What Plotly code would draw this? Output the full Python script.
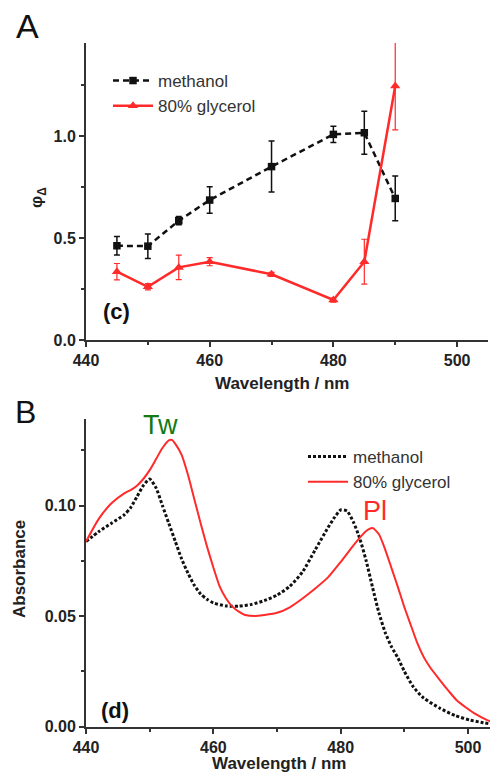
import plotly.graph_objects as go

# ---------------- Panel A data (singlet oxygen quantum yield) ----------------
wl_a = [445, 450, 455, 460, 470, 480, 485, 490]
phi_meoh = [0.462, 0.460, 0.585, 0.686, 0.850, 1.008, 1.016, 0.694]
phi_meoh_err = [0.045, 0.060, 0.020, 0.065, 0.125, 0.040, 0.105, 0.110]
phi_gly = [0.335, 0.261, 0.356, 0.384, 0.322, 0.196, 0.384, 1.245]
phi_gly_err = [0.040, 0.015, 0.060, 0.020, 0.010, 0.010, 0.110, 0.215]

# ---------------- Panel B data (absorbance spectra) ----------------
wl_meoh = [440, 442, 444, 446, 447, 448, 449, 450, 451, 452, 453, 454, 455, 456,
           457, 458, 459, 460, 462, 464, 466, 468, 470, 472, 474, 476, 478, 479,
           480, 481, 482, 483, 484, 485, 486, 487, 488, 489, 490, 491.4, 493,
           495.6, 498, 500.3, 502, 505]
abs_meoh = [0.0837, 0.0882, 0.0920, 0.0958, 0.0990, 0.1040, 0.1090, 0.1120,
            0.1080, 0.1000, 0.0920, 0.0840, 0.0760, 0.0695, 0.0640, 0.0600,
            0.0576, 0.0560, 0.0546, 0.0545, 0.0553, 0.0570, 0.0595, 0.0635,
            0.0700, 0.0800, 0.0900, 0.0945, 0.0980, 0.0975, 0.0925, 0.0850,
            0.0750, 0.0630, 0.0515, 0.0425, 0.0360, 0.0310, 0.0250, 0.0180,
            0.0130, 0.0083, 0.0050, 0.0030, 0.0020, 0.0005]

wl_gly = [440, 442, 444, 446, 447, 448, 449, 450, 451, 452, 453, 453.5, 454, 455,
          456, 457, 458, 459, 460, 461, 462, 463, 464, 465, 466.5, 468, 470, 472,
          474, 476, 478, 480, 482, 483, 484, 485, 486, 487, 488, 489, 490, 491,
          492, 493, 494, 495.6, 497, 498.2, 500, 501, 503, 505]
abs_gly = [0.0837, 0.0940, 0.1010, 0.1055, 0.1070, 0.1090, 0.1120, 0.1160,
           0.1210, 0.1260, 0.1295, 0.1297, 0.1280, 0.1230, 0.1140, 0.1030,
           0.0920, 0.0815, 0.0720, 0.0633, 0.0580, 0.0543, 0.0520, 0.0505,
           0.0500, 0.0505, 0.0515, 0.0540, 0.0580, 0.0625, 0.0675, 0.0745,
           0.0820, 0.0855, 0.0885, 0.0898, 0.0870, 0.0800, 0.0715, 0.0630,
           0.0540, 0.0460, 0.0380, 0.0317, 0.0270, 0.0210, 0.0160, 0.0120,
           0.0080, 0.0060, 0.0030, 0.0010]

series_names = ["methanol", "80% glycerol"]

BLACK = "#111111"
RED = "#ff2a2a"
AXC = "#333333"
FONT = "Liberation Sans, Arial, sans-serif"

# the page body has an 8px default margin, so the figure is 8px smaller
OFF = 8
W, H = 498 - OFF, 776 - OFF

def px(v):
    return (v - OFF) / W

def py(v):
    return 1 - (v - OFF) / H

fig = go.Figure()

# Panel A traces
fig.add_trace(go.Scatter(
    x=wl_a, y=phi_meoh, name=series_names[0], mode="lines+markers",
    line=dict(color=BLACK, width=2.5, dash="6px,4px"),
    marker=dict(symbol="square", size=7.5, color=BLACK),
    error_y=dict(type="data", array=phi_meoh_err, color=BLACK, thickness=1.5, width=3),
    xaxis="x", yaxis="y", legend="legend"))
fig.add_trace(go.Scatter(
    x=wl_a, y=phi_gly, name=series_names[1], mode="lines+markers",
    line=dict(color=RED, width=2.5),
    marker=dict(symbol="triangle-up", size=9, color=RED),
    error_y=dict(type="data", array=phi_gly_err, color=RED, thickness=1.2, width=3),
    xaxis="x", yaxis="y", legend="legend"))

# Panel B traces
fig.add_trace(go.Scatter(
    x=wl_meoh, y=abs_meoh, name=series_names[0], mode="lines",
    line=dict(color=BLACK, width=3, dash="3px,2px", shape="spline", smoothing=0.6),
    xaxis="x2", yaxis="y2", legend="legend2"))
fig.add_trace(go.Scatter(
    x=wl_gly, y=abs_gly, name=series_names[1], mode="lines",
    line=dict(color=RED, width=2, shape="spline", smoothing=0.6),
    xaxis="x2", yaxis="y2", legend="legend2"))

axis_common = dict(
    showline=True, linecolor=AXC, linewidth=2, showgrid=False, zeroline=False,
    ticks="outside", ticklen=5, tickwidth=2, tickcolor=AXC,
    tickfont=dict(family=FONT, size=16, color="#222222", weight="bold"),
    mirror=False, automargin=False,
)

fig.update_layout(
    width=W, height=H,
    margin=dict(l=0, r=0, t=0, b=0, pad=0),
    paper_bgcolor="white", plot_bgcolor="white",
    font=dict(family=FONT, color="#222222"),
    xaxis=dict(domain=[px(86), px(488)], range=[440, 505], anchor="y",
               tick0=440, dtick=20,
               minor=dict(dtick=10, ticks="outside", ticklen=3, tickwidth=2, tickcolor=AXC),
               **axis_common),
    yaxis=dict(domain=[py(340), py(43)], range=[0, 1.456], anchor="x",
               tick0=0, dtick=0.5, tickformat=".1f",
               minor=dict(dtick=0.25, ticks="outside", ticklen=3, tickwidth=2, tickcolor=AXC),
               **axis_common),
    xaxis2=dict(domain=[px(86), 1.0], range=[440, 504.7], anchor="y2",
                tick0=440, dtick=20,
                minor=dict(dtick=10, ticks="outside", ticklen=3, tickwidth=2, tickcolor=AXC),
                **axis_common),
    yaxis2=dict(domain=[py(726.7), py(419.3)], range=[0, 0.139], anchor="x2",
                tick0=0, dtick=0.05, tickformat=".2f",
                minor=dict(dtick=0.025, ticks="outside", ticklen=3, tickwidth=2, tickcolor=AXC),
                **axis_common),
    legend=dict(x=px(108), y=py(63), xanchor="left", yanchor="top",
                bgcolor="rgba(0,0,0,0)", font=dict(family=FONT, size=17, color="#333333"),
                itemwidth=40, tracegroupgap=0),
    legend2=dict(x=px(303), y=py(439), xanchor="left", yanchor="top",
                 bgcolor="rgba(0,0,0,0)", font=dict(family=FONT, size=17, color="#333333"),
                 itemwidth=40, tracegroupgap=0),
    showlegend=True,
)

ann = []
def add_text(text, x, y, size, color="#111111", bold=False, angle=0):
    ann.append(dict(text=text, x=px(x), y=py(y), xref="paper", yref="paper",
                    showarrow=False, xanchor="center", yanchor="middle", textangle=angle,
                    font=dict(family=FONT, size=size, color=color,
                              weight="bold" if bold else "normal")))

add_text("A", 27, 26, 34)
add_text("B", 25, 412, 32)
add_text("(c)", 116, 312, 22, bold=True)
add_text("(d)", 115, 710, 22, bold=True)
add_text("Wavelength / nm", 282, 383, 17, color="#222222", bold=True)
add_text("Wavelength / nm", 279, 763, 17, color="#222222", bold=True)
add_text("φ<sub>Δ</sub>", 38, 198, 17, color="#222222", bold=True, angle=-90)
add_text("Absorbance", 19, 569, 17, color="#222222", bold=True, angle=-90)
add_text("Tw", 160, 425, 27, color="#137a13")
add_text("Pl", 375, 511, 27, color=RED)

fig.update_layout(annotations=ann)

fig.write_html("out.html")
